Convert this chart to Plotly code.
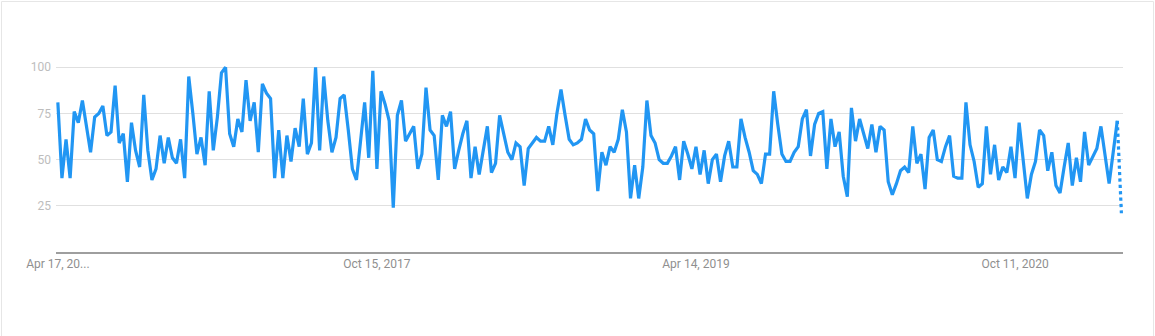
import plotly.graph_objects as go
import pandas as pd

# ---- data ----
start_date = "2016-04-17"
interest = [
    81, 40, 61, 40, 76, 70, 82, 68, 54, 73,
    75, 79, 63, 65, 90, 59, 64, 38, 70, 55,
    46, 85, 55, 39, 45, 63, 48, 62, 51, 48,
    61, 40, 95, 75, 53, 62, 47, 87, 55, 73,
    97, 100, 64, 57, 72, 65, 93, 71, 81, 54,
    91, 86, 83, 40, 66, 40, 63, 49, 67, 57,
    83, 53, 59, 100, 55, 95, 71, 54, 62, 83,
    85, 66, 45, 39, 62, 81, 51, 98, 45, 87,
    80, 71, 24, 74, 82, 60, 64, 68, 45, 53,
    89, 66, 63, 39, 74, 68, 76, 45, 55, 64,
    71, 40, 57, 42, 55, 68, 43, 48, 74, 63,
    54, 50, 59, 57, 36, 56, 59, 62, 60, 60,
    68, 58, 75, 88, 74, 61, 58, 59, 61, 72,
    66, 64, 33, 54, 47, 57, 54, 61, 77, 65,
    29, 47, 29, 46, 82, 63, 59, 50, 48, 48,
    52, 57, 39, 60, 53, 45, 57, 42, 55, 37,
    50, 53, 38, 52, 60, 46, 46, 72, 62, 54,
    44, 42, 37, 53, 53, 87, 69, 53, 49, 49,
    54, 57, 72, 77, 52, 69, 75, 76, 45, 72,
    57, 65, 41, 30, 78, 60, 72, 64, 56, 69,
    54, 68, 66, 38, 31, 37, 44, 46, 43, 68,
    48, 53, 34, 62, 66, 50, 49, 57, 63, 41,
    40, 40, 81, 58, 49, 35, 37, 68, 42, 58,
    39, 46, 43, 57, 40, 70, 48, 29, 42, 49,
    66, 63, 44, 54, 36, 32, 46, 59, 36, 51,
    38, 65, 47, 52, 56, 68, 53, 37, 54, 71,
    21,
]
tick_dates = ["2016-04-17", "2017-10-15", "2019-04-14", "2020-10-11"]
tick_labels = ["Apr 17, 20...", "Oct 15, 2017", "Apr 14, 2019", "Oct 11, 2020"]
y_ticks = [25, 50, 75, 100]

dates = pd.date_range(start_date, periods=len(interest), freq="7D")

# ---- layout constants ----
W, H = 1155, 336
L, R, T, B = 56, 32, 58, 84
PW, PH = W - L - R, H - T - B
BLUE = "#2196f3"

fig = go.Figure()
fig.add_trace(go.Scatter(
    x=dates[:-1], y=interest[:-1], mode="lines",
    line=dict(color=BLUE, width=3.2), hoverinfo="x+y", showlegend=False,
))
fig.add_trace(go.Scatter(
    x=dates[-2:], y=interest[-2:], mode="lines",
    line=dict(color=BLUE, width=3.2, dash="dot"), hoverinfo="x+y", showlegend=False,
))

def px_x(p):
    return (p - L) / PW

def px_y(p):
    return (H - B - p) / PH

border = dict(color="#e6e6e6", width=1)
shapes = [
    dict(type="line", xref="paper", yref="paper", x0=px_x(1.5), x1=px_x(1.5),
         y0=px_y(1.5), y1=px_y(H), line=border),
    dict(type="line", xref="paper", yref="paper", x0=px_x(1.5), x1=px_x(W - 1.5),
         y0=px_y(1.5), y1=px_y(1.5), line=border),
    dict(type="line", xref="paper", yref="paper", x0=px_x(W - 1.5), x1=px_x(W - 1.5),
         y0=px_y(1.5), y1=px_y(H), line=border),
]

fig.update_layout(
    width=W, height=H,
    margin=dict(l=L, r=R, t=T, b=B, pad=0),
    paper_bgcolor="white", plot_bgcolor="white",
    font=dict(family="Roboto", size=12),
    shapes=shapes,
    xaxis=dict(
        type="date",
        range=["2016-04-13 20:00", "2021-04-13 18:00"],
        tickmode="array", tickvals=tick_dates, ticktext=tick_labels,
        showgrid=False, zeroline=False,
        showline=True, linecolor="#9e9e9e", linewidth=1.5,
        ticks="", tickfont=dict(color="#8f8f8f", size=12),
        ticklabelstandoff=0,
    ),
    yaxis=dict(
        range=[0, 105],
        tickmode="array", tickvals=y_ticks,
        showgrid=True, gridcolor="#e0e0e0", gridwidth=1,
        zeroline=False, showline=False, ticks="",
        tickfont=dict(color="#bdbdbd", size=12),
        ticklabelstandoff=4,
    ),
)

fig.write_html("out.html")
